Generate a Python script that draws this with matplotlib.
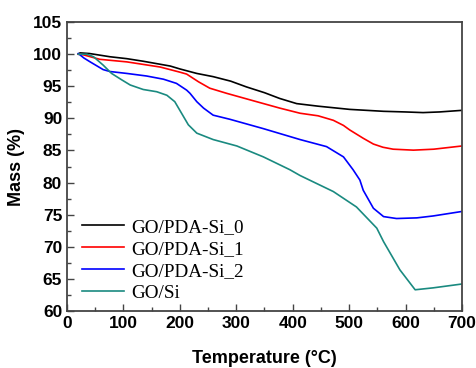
import matplotlib
matplotlib.use("Agg")
import matplotlib.pyplot as plt
from matplotlib.ticker import MultipleLocator

# values (temperature in °C, mass in %)
temp_0 = [20, 23, 40, 76, 106, 135, 183, 200, 230, 259, 290, 318, 350, 377, 407, 445,
          501, 561, 600, 631, 660, 700]
mass_0 = [100.0, 100.2, 100.1, 99.6, 99.3, 98.9, 98.15, 97.7, 97.0, 96.5, 95.8, 94.9,
          94.0, 93.1, 92.3, 91.9, 91.4, 91.1, 91.0, 90.9, 91.0, 91.25]

temp_1 = [20, 29, 58, 106, 165, 200, 212, 233, 253, 283, 336, 377, 413, 445, 472, 490,
          501, 525, 543, 560, 578, 614, 650, 700]
mass_1 = [100.0, 99.9, 99.2, 98.8, 98.0, 97.2, 96.9, 95.7, 94.7, 93.9, 92.6, 91.6,
          90.8, 90.4, 89.7, 88.9, 88.2, 86.9, 86.0, 85.5, 85.2, 85.05, 85.2, 85.7]

temp_2 = [20, 30, 41, 64, 76, 106, 141, 171, 194, 212, 218, 230, 242, 259, 289, 348,
          413, 460, 490, 507, 519, 525, 543, 561, 584, 620, 649, 700]
mass_2 = [100.1, 99.4, 98.8, 97.6, 97.3, 97.0, 96.6, 96.1, 95.45, 94.4, 93.9, 92.6,
          91.6, 90.5, 89.85, 88.4, 86.7, 85.6, 84.0, 82.0, 80.4, 78.8, 76.0, 74.7,
          74.4, 74.5, 74.8, 75.5]

temp_3 = [20, 35, 47, 64, 79, 97, 112, 135, 159, 177, 191, 203, 215, 230, 259, 301,
          348, 395, 413, 472, 513, 549, 561, 590, 617, 649, 700]
mass_3 = [100.0, 100.0, 99.6, 98.3, 97.0, 96.0, 95.2, 94.5, 94.15, 93.6, 92.6, 90.8,
          89.0, 87.7, 86.7, 85.7, 84.0, 82.0, 81.1, 78.6, 76.2, 72.9, 70.8, 66.4,
          63.3, 63.6, 64.2]

labels = ["GO/PDA-Si_0", "GO/PDA-Si_1", "GO/PDA-Si_2", "GO/Si"]
colors = ["black", "#ff0000", "#0000ff", "#1a8a80"]

fig = plt.figure(figsize=(4.77, 3.68), dpi=100)
ax = fig.add_axes([0.1405, 0.155, 0.828, 0.785])

for t, m, lab, c in zip([temp_0, temp_1, temp_2, temp_3],
                        [mass_0, mass_1, mass_2, mass_3], labels, colors):
    ax.plot(t, m, color=c, lw=1.2, label=lab, solid_joinstyle="round")

ax.set_xlim(0, 700)
ax.set_ylim(60, 105)
ax.xaxis.set_major_locator(MultipleLocator(100))
ax.xaxis.set_minor_locator(MultipleLocator(50))
ax.yaxis.set_major_locator(MultipleLocator(5))
ax.yaxis.set_minor_locator(MultipleLocator(2.5))
ax.tick_params(which="both", direction="in", top=False, right=False,
               color="#444444", width=1.0)
ax.tick_params(which="major", length=5)
ax.tick_params(which="minor", length=3)

for lab in ax.get_xticklabels() + ax.get_yticklabels():
    lab.set_fontfamily("Liberation Sans")
    lab.set_fontweight("bold")
    lab.set_fontsize(12.5)

for s in ax.spines.values():
    s.set_color("#444444")
    s.set_linewidth(1.3)

ax.set_xlabel("Temperature (\u00b0C)", fontfamily="Liberation Sans",
              fontweight="bold", fontsize=13, labelpad=14)
ax.set_ylabel("Mass (%)", fontfamily="Liberation Sans",
              fontweight="bold", fontsize=13, labelpad=6)

ax.legend(loc="lower left", bbox_to_anchor=(-0.005, -0.028), frameon=False,
          prop={"family": "Liberation Serif", "size": 13.8},
          handlelength=2.15, handletextpad=0.42, labelspacing=0.24)

fig.savefig("out.png", dpi=100)
